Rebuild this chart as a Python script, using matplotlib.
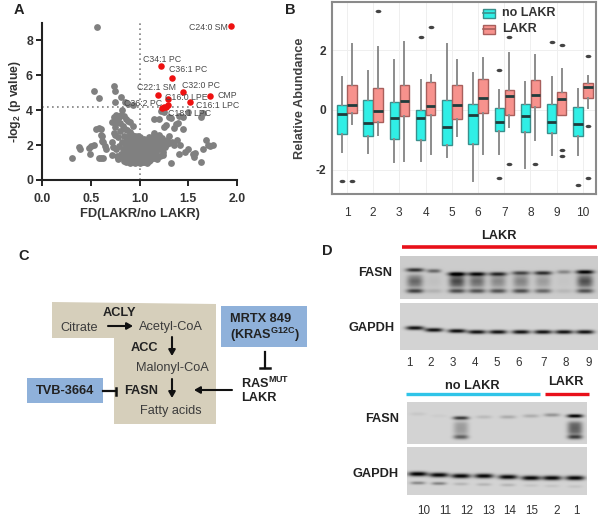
import numpy as np
import matplotlib
matplotlib.use('Agg')
import matplotlib.pyplot as plt
from matplotlib.markers import MarkerStyle
from matplotlib.transforms import Affine2D
from matplotlib.patches import Polygon, Rectangle

plt.rcParams['font.family'] = ['Liberation Sans', 'DejaVu Sans']
plt.rcParams['mathtext.default'] = 'regular'
plt.rcParams['axes.unicode_minus'] = False

# ---------- Panel A data ----------
grey_fd = [0.56,0.53,0.58,0.74,0.75,0.75,0.81,0.85,0.88,0.93,0.82,0.31,0.38,0.39,0.49,0.53,0.48,0.50,0.58,0.60,0.63,
 0.55,0.58,0.60,0.60,0.62,0.63,0.65,0.66,0.62,0.72,0.74,0.75,0.77,0.78,0.72,0.74,0.76,0.79,0.81,0.84,0.86,0.88,0.90,0.93,0.80,
 0.83,0.85,0.87,0.90,0.92,0.95,0.75,0.78,0.80,0.84,0.87,0.89,0.92,0.96,0.98,0.73,0.76,0.79,0.82,0.85,0.88,0.91,0.94,0.97,
 0.72,0.77,0.81,0.84,0.86,0.89,0.92,0.95,0.98,1.01,0.78,0.82,0.85,0.88,0.91,0.94,0.97,1.00,1.03,1.05,
 0.84,0.86,0.89,0.91,0.93,0.95,0.97,0.99,1.01,1.03,1.05,1.07,1.09,1.11,1.13,0.85,0.87,0.89,0.92,0.94,0.96,0.98,1.00,1.02,1.04,1.06,1.08,1.10,1.12,1.15,
 0.83,0.86,0.88,0.90,0.93,0.95,0.97,0.99,1.01,1.03,1.05,1.07,1.09,1.11,1.14,1.17,1.20,0.87,0.90,0.92,0.94,0.96,0.98,1.00,1.02,1.04,1.06,1.08,1.10,1.13,1.16,1.19,1.22,
 0.88,0.91,0.93,0.96,0.98,1.00,1.03,1.05,1.08,1.11,1.14,1.18,1.21,1.24,0.90,0.92,0.95,0.97,1.00,1.02,1.05,1.08,1.12,1.16,1.20,1.24,1.28,
 1.05,1.10,1.13,1.15,1.17,1.20,1.15,1.20,1.25,1.22,1.30,1.32,1.40,1.45,1.63,1.65,1.50,1.25,1.27,1.35,1.37,1.39,1.45,1.30,1.15,1.20,1.23,1.28,1.35,1.38,1.42,1.47,1.50,1.55,1.57,1.56,1.63,1.65,1.68,1.70,1.72,1.75,1.32,1.40,1.30,1.33,1.25,1.22,1.26,1.18,
 0.90,0.93,0.96,0.99,1.02,1.05,1.08,1.11,1.14,0.92,0.95,0.98,1.01,1.04,1.07,1.10,1.13,1.16,1.19,0.94,0.97,1.00,1.03,1.06,1.09,1.12,1.15,1.18,1.21,1.24]
grey_p = [8.75,5.13,4.70,5.38,5.10,4.50,4.75,4.50,4.35,4.30,4.00,1.25,1.90,1.75,1.50,2.00,1.85,1.95,1.25,1.25,1.25,
 2.90,3.00,2.95,2.60,2.55,2.20,1.95,1.75,2.25,2.15,2.70,3.05,3.30,3.55,3.35,3.60,3.75,3.60,3.70,3.65,3.50,3.40,3.30,3.10,3.25,
 3.10,2.95,2.85,2.75,2.60,2.50,2.60,2.45,2.80,2.50,2.35,2.55,2.30,2.35,2.55,1.90,1.75,1.95,2.20,2.10,2.25,2.05,2.15,2.00,
 1.45,1.35,1.50,1.70,1.95,1.80,1.90,1.75,1.85,2.45,1.20,1.30,1.45,1.60,1.55,1.65,1.60,1.75,1.95,2.15,
 1.10,1.05,1.15,1.35,1.10,1.25,1.35,1.20,1.40,1.30,1.50,1.65,1.45,1.85,2.00,1.20,1.40,1.05,1.25,1.45,1.10,1.05,1.30,1.15,1.05,1.20,1.35,1.70,1.55,1.80,
 1.75,1.55,1.65,1.30,1.50,1.70,1.55,1.65,1.55,1.85,1.70,1.90,1.95,1.60,1.50,1.65,1.75,1.90,1.85,1.60,1.05,1.15,1.25,1.05,1.10,1.40,1.55,1.30,1.10,1.25,1.95,2.05,1.85,
 1.15,1.05,1.35,1.05,1.80,2.05,1.80,2.05,1.20,1.15,2.10,2.25,2.30,2.15,1.00,1.30,1.00,1.10,1.00,1.15,1.05,1.00,1.35,1.40,2.40,1.60,2.05,
 2.35,2.45,2.25,2.60,2.40,2.50,3.50,3.50,3.90,3.95,3.60,3.55,3.65,3.60,3.60,3.85,3.90,3.05,3.15,3.00,3.20,3.25,2.90,2.50,2.70,2.60,2.40,2.30,2.00,2.30,2.00,1.60,1.80,1.50,1.55,1.30,1.05,1.75,2.30,2.00,1.95,2.00,1.00,1.50,2.10,2.15,2.10,2.00,1.90,2.20,
 2.10,2.20,2.00,2.25,2.10,2.30,2.15,2.20,2.30,1.50,1.40,1.45,1.60,1.75,1.45,1.35,1.50,1.35,1.40,1.25,1.20,1.25,1.70,1.60,1.50,1.55,1.25,1.20,1.35,1.45]
red_fd = [1.94,1.22,1.33,1.45,1.72,1.19,1.29,1.52,1.29,1.25,1.23,1.27]
red_p = [8.82,6.52,5.82,5.03,4.82,4.88,4.62,4.50,4.30,4.20,4.10,4.20]
xticks_a = [0.0,0.5,1.0,1.5,2.0]
yticks_a = [0,2,4,6,8]
lipid_labels = ['C24:0 SM','C34:1 PC','C36:1 PC','C32:0 PC','CMP','C22:1 SM','C16:0 LPE','C36:2 PC','C16:1 LPC','C18:1 LPC']

# ---------- Panel B data ----------
groups = [1,2,3,4,5,6,7,8,9,10]
nl_low  = [-1.40,-1.43,-1.75,-1.72,-1.58,-2.38,-1.47,-1.96,-1.50,-1.50]
nl_q1   = [-0.80,-0.88,-0.97,-1.02,-1.16,-1.14,-0.70,-0.73,-0.79,-0.86]
nl_med  = [-0.15,-0.44,-0.26,-0.26,-0.57,-0.17,-0.39,-0.22,-0.39,-0.46]
nl_q3   = [0.15,0.33,0.25,0.00,0.33,0.21,0.07,0.19,0.21,0.10]
nl_high = [1.10,1.30,1.67,1.00,2.20,1.23,0.66,0.95,1.10,0.69]
nl_fliers = [[-2.4],[],[],[2.43],[],[],[1.34,-2.30],[],[2.29],[-2.51]]
la_low  = [-0.47,-0.84,-1.72,-1.48,-0.87,-1.47,-0.56,-1.00,-0.18,0.06]
la_q1   = [-0.10,-0.40,-0.20,-0.16,-0.31,-0.11,-0.16,0.10,-0.18,0.40]
la_med  = [0.18,-0.02,0.30,0.13,0.18,0.41,0.46,0.50,0.37,0.78]
la_q3   = [0.83,0.73,0.83,0.93,0.83,1.04,0.67,1.00,0.61,0.90]
la_high = [2.20,2.12,2.27,1.17,1.67,1.74,1.90,1.84,1.37,1.13]
la_fliers = [[-2.4],[3.32],[],[2.77],[],[],[2.46,-1.83],[-1.83],[2.18,-1.36,-1.54],[1.82,-0.54,-2.27]]

# ---------- Panel D data (band strength per lane) ----------
d1_top = [0.62,0.40,0.80,0.72,0.62,0.52,0.62,0.28,0.80]
d1_smear = [0.42,0.05,0.55,0.40,0.28,0.30,0.20,0.03,0.52]
d1_low = [0.55,0.10,0.50,0.48,0.48,0.50,0.40,0.08,0.48]
d1_gapdh = [0.78,0.78,0.80,0.78,0.78,0.78,0.78,0.78,0.78]
d2_top = [0.05,0.03,0.62,0.10,0.16,0.15,0.25,0.85]
d2_smear = [0.0,0.0,0.22,0.0,0.0,0.0,0.0,0.45]
d2_low = [0.0,0.0,0.45,0.0,0.0,0.0,0.0,0.58]
d2_gapdh = [0.85,0.82,0.82,0.82,0.82,0.82,0.82,0.82]
d2_gapdh2 = [0.30,0.32,0.12,0.12,0.12,0.06,0.06,0.06]
lanes_1 = ['1','2','3','4','5','6','7','8','9']
lanes_2 = ['10','11','12','13','14','15','2','1']

W, H = 600, 524
fig = plt.figure(figsize=(6, 5.24), dpi=100)

def axes_px(l, t, r, b):
    return fig.add_axes([l/W, 1-b/H, (r-l)/W, (b-t)/H])

# ---------- Panel A ----------
a = axes_px(42, 23, 237, 180)
a.set_xlim(0, 2); a.set_ylim(0, 9)
a.axvline(1.0, color='#808080', ls=(0, (1, 2)), lw=1.2, zorder=1)
a.plot([0, 1.6], [4.2, 4.2], color='#808080', ls=(0, (1, 2)), lw=1.2, zorder=1)
a.scatter(grey_fd, grey_p, s=24, c='#808080', lw=0, zorder=2, clip_on=False)
a.scatter(red_fd, red_p, s=22, c='#ee1111', lw=0, zorder=3, clip_on=False)
for s in ('top', 'right'):
    a.spines[s].set_visible(False)
for s in ('left', 'bottom'):
    a.spines[s].set_linewidth(1.5); a.spines[s].set_color('#222222')
a.set_xticks(xticks_a); a.set_yticks(yticks_a)
a.set_xticklabels([f'{v:.1f}' for v in xticks_a], fontweight='bold', fontsize=8.8, color='#333333')
a.set_yticklabels([str(v) for v in yticks_a], fontweight='bold', fontsize=8.8, color='#333333')
a.tick_params(width=1.4, length=4, color='#222222', pad=2.5)
a.tick_params(axis='x', pad=5.5)
a.set_xlabel('FD(LAKR/no LAKR)', fontweight='bold', fontsize=9.3, color='#333333', labelpad=2)
a.set_ylabel('-log$_2$ (p value)', fontweight='bold', fontsize=8.8, color='#333333', labelpad=2)

# ---------- Panel B ----------
b = axes_px(332, 2, 596, 194)
b.set_xlim(0.43, 10.5); b.set_ylim(-2.82, 3.62)
b.grid(True, color='#efefef', lw=0.7, zorder=0)
b.set_axisbelow(True)
def stats(lo, q1, med, q3, hi, fl):
    return [dict(whislo=lo[i], q1=q1[i], med=med[i], q3=q3[i], whishi=hi[i], fliers=fl[i]) for i in range(len(lo))]
oval = MarkerStyle('o', transform=Affine2D().scale(1.3, 0.75))
def boxes(st, pos, face, edge):
    b.bxp(st, positions=pos, widths=0.36, patch_artist=True, showcaps=False, manage_ticks=False,
          boxprops=dict(facecolor=face, edgecolor=edge, lw=1.0),
          medianprops=dict(color='#203c3c', lw=2.0, solid_capstyle='butt'),
          whiskerprops=dict(color='#8c8c8c', lw=1.4),
          flierprops=dict(marker=oval, markersize=3.2, markerfacecolor='#444444', markeredgecolor='#444444', markeredgewidth=0))
pos = np.array(groups, dtype=float)
boxes(stats(nl_low, nl_q1, nl_med, nl_q3, nl_high, nl_fliers), pos-0.19, '#30EFE6', '#3A8F8C')
boxes(stats(la_low, la_q1, la_med, la_q3, la_high, la_fliers), pos+0.19, '#F7928D', '#A85F5C')
b.set_xticks(groups); b.set_xticklabels([str(g) for g in groups], fontsize=8.6, color='#333333')
b.set_yticks([-2, 0, 2]); b.set_yticklabels(['-2', '0', '2'], fontweight='bold', fontsize=8.6, color='#333333')
b.tick_params(axis='x', length=0, pad=9.5)
b.tick_params(axis='y', length=0, pad=4)
for s in b.spines.values():
    s.set_color('#8a8a8a'); s.set_linewidth(1.5)
b.set_ylabel('Relative Abundance', fontweight='bold', fontsize=9.2, color='#404040', labelpad=7)

# ---------- Overlay in pixel coordinates (C, D, labels) ----------
o = fig.add_axes([0, 0, 1, 1], zorder=5)
o.patch.set_alpha(0)
o.axis('off')

def T(x, y, s, ha='center', **kw):
    kw.setdefault('fontsize', 9.2); kw.setdefault('color', '#3c3c3c')
    o.text(x, y, s, ha=ha, va='center', **kw)

for x, y, s in [(19, 10, 'A'), (290, 10, 'B'), (24, 256, 'C'), (327, 251, 'D')]:
    T(x, y, s, fontweight='bold', fontsize=10.5, color='#222222')

# lipid labels (left edge, centre y)
lab_pos = [(189,27),(143,59),(169,70),(182,85),(217,95),(137,87),(165,97),(124,104),(196,105),(168,113)]
for (x, y), s in zip(lab_pos, lipid_labels):
    T(x, y, s, ha='left', fontsize=6.3, color='#4a4a4a')

# legend of panel B
for y, face, edge, name in [(13, '#30EFE6', '#3A8F8C', 'no LAKR'), (29, '#F7928D', '#A85F5C', 'LAKR')]:
    o.add_patch(Rectangle((483, y-4.5), 12, 9, fc=face, ec=edge, lw=1))
    o.plot([483, 495], [y, y], color=edge, lw=1.2)
    T(502, y, name, ha='left', fontweight='bold', fontsize=9, color='#333333')

# Panel C
o.add_patch(Polygon([(52,302),(216,304),(216,424),(114,424),(114,338),(52,338)], closed=True, fc='#D6CFBB', ec='none'))
o.add_patch(Rectangle((221,306), 86, 41, fc='#8FB1DA', ec='none'))
o.add_patch(Rectangle((27,378), 76, 25, fc='#8FB1DA', ec='none'))
bold = dict(fontweight='bold', color='#222222')
T(119, 313, 'ACLY', **bold)
T(79, 328, 'Citrate')
T(171, 327, 'Acetyl-CoA')
T(144, 348, 'ACC', **bold)
T(172, 368, 'Malonyl-CoA')
T(141, 391, 'FASN', **bold)
T(171, 411, 'Fatty acids')
T(65, 391, 'TVB-3664', **bold)
T(230, 319, 'MRTX 849', ha='left', **bold)
T(230, 335, '(KRAS$^{G12C}$)', ha='left', **bold)
T(241, 383, 'RAS$^{MUT}$', ha='left', **bold)
T(241, 398, 'LAKR', ha='left', **bold)
def arrow(x0, y0, x1, y1):
    o.annotate('', xy=(x1, y1), xytext=(x0, y0),
               arrowprops=dict(arrowstyle='-|>,head_width=0.2,head_length=0.35', color='#111111', lw=1.5, shrinkA=0, shrinkB=0))
arrow(108, 326, 133, 326)
arrow(172, 337, 172, 356)
arrow(172, 379, 172, 398)
arrow(232, 390, 194, 390)
o.plot([103, 116], [391, 391], color='#111111', lw=1.6)
o.plot([116, 116], [387.5, 394.5], color='#111111', lw=1.8)
o.plot([265, 265], [352, 368], color='#111111', lw=1.6)
o.plot([260, 270], [368, 368], color='#111111', lw=1.8)

# Panel D
def blot(l, t, r, b, bg, bands):
    """bands: (lane x, band y, half width, half height, strength) in pixels."""
    nx, ny = (r-l)*3, (b-t)*3
    xs = l + (np.arange(nx)+0.5)/3
    ys = t + (np.arange(ny)+0.5)/3
    X, Y = np.meshgrid(xs, ys)
    img = np.full(X.shape, bg, dtype=float)
    for x0, y0, wx, wy, amp in bands:
        img -= amp*np.exp(-(np.abs(X-x0)/wx)**3)*np.exp(-((Y-y0)/wy)**2)
    o.imshow(np.clip(img, 0, 1), extent=(l, r, b, t), cmap='gray', vmin=0, vmax=1,
             aspect='auto', interpolation='bilinear', zorder=1)

x1 = [415,434,457,477,498,521,543,564,585]
x2 = [418,439,461,484,508,531,552,575]
top_y1 = [270,271,274,274,274,273,273,272,272]
gap_y1 = [328,330,331,332,332,332,332,332,332]
b1 = []
for i, x in enumerate(x1):
    w = 9 if i not in (1, 7) else 7
    b1.append((x, top_y1[i], w, 2.0, d1_top[i]))
    for yy, f in [(277, 0.7), (281, 1.0), (285, 0.8)]:
        b1.append((x, yy, 8, 3.0, d1_smear[i]*f*0.75))
    b1.append((x, 291, 8.5, 2.3, d1_low[i]))
blot(400, 256, 598, 299, 0.80, b1)
blot(400, 303, 598, 350, 0.83, [(x, y, 9, 2.0, v) for x, y, v in zip(x1, gap_y1, d1_gapdh)])
b2 = []
top_y2 = [414,416,418,417,417,416,415,416]
for i, x in enumerate(x2):
    b2.append((x, top_y2[i], 8, 1.8, d2_top[i]))
    for yy in (424, 428, 432):
        b2.append((x, yy, 7.5, 3.0, d2_smear[i]*0.75))
    b2.append((x, 437, 7.5, 2.3, d2_low[i]))
blot(407, 402, 587, 444, 0.83, b2)
gap_y2 = [474,475,476,476,477,478,478,478]
b3 = [(x, y, 9.5, 2.3, v) for x, y, v in zip(x2, gap_y2, d2_gapdh)]
b3 += [(x, 483+i*0.5, 7.5, 1.6, v) for i, (x, v) in enumerate(zip(x2, d2_gapdh2))]
blot(407, 447, 587, 495, 0.83, b3)

o.plot([402, 597], [247, 247], color='#E8101A', lw=2.6, solid_capstyle='butt')
o.plot([406, 540], [394, 394], color='#2FC4E8', lw=2.4, solid_capstyle='butt')
o.plot([545, 589], [394, 394], color='#E8101A', lw=2.4, solid_capstyle='butt')
T(499, 236, 'LAKR', fontweight='bold', fontsize=9.2, color='#222222')
T(472, 386, 'no LAKR', fontweight='bold', fontsize=9.2, color='#222222')
T(566, 382, 'LAKR', fontweight='bold', fontsize=9.2, color='#222222')
for x, y, s in [(392, 273, 'FASN'), (395, 328, 'GAPDH'), (399, 419, 'FASN'), (399, 474, 'GAPDH')]:
    T(x, y, s, ha='right', fontweight='bold', fontsize=9.2, color='#222222')
for x, s in zip([409,431,453,475,497,519,544,566,589], lanes_1):
    T(x, 363, s, fontsize=8.4, color='#333333')
for x, s in zip([424,445,467,489,510,532,557,576], lanes_2):
    T(x, 511, s, fontsize=8.4, color='#333333')

o.set_xlim(0, W); o.set_ylim(H, 0)
fig.savefig('out.png', dpi=100)
